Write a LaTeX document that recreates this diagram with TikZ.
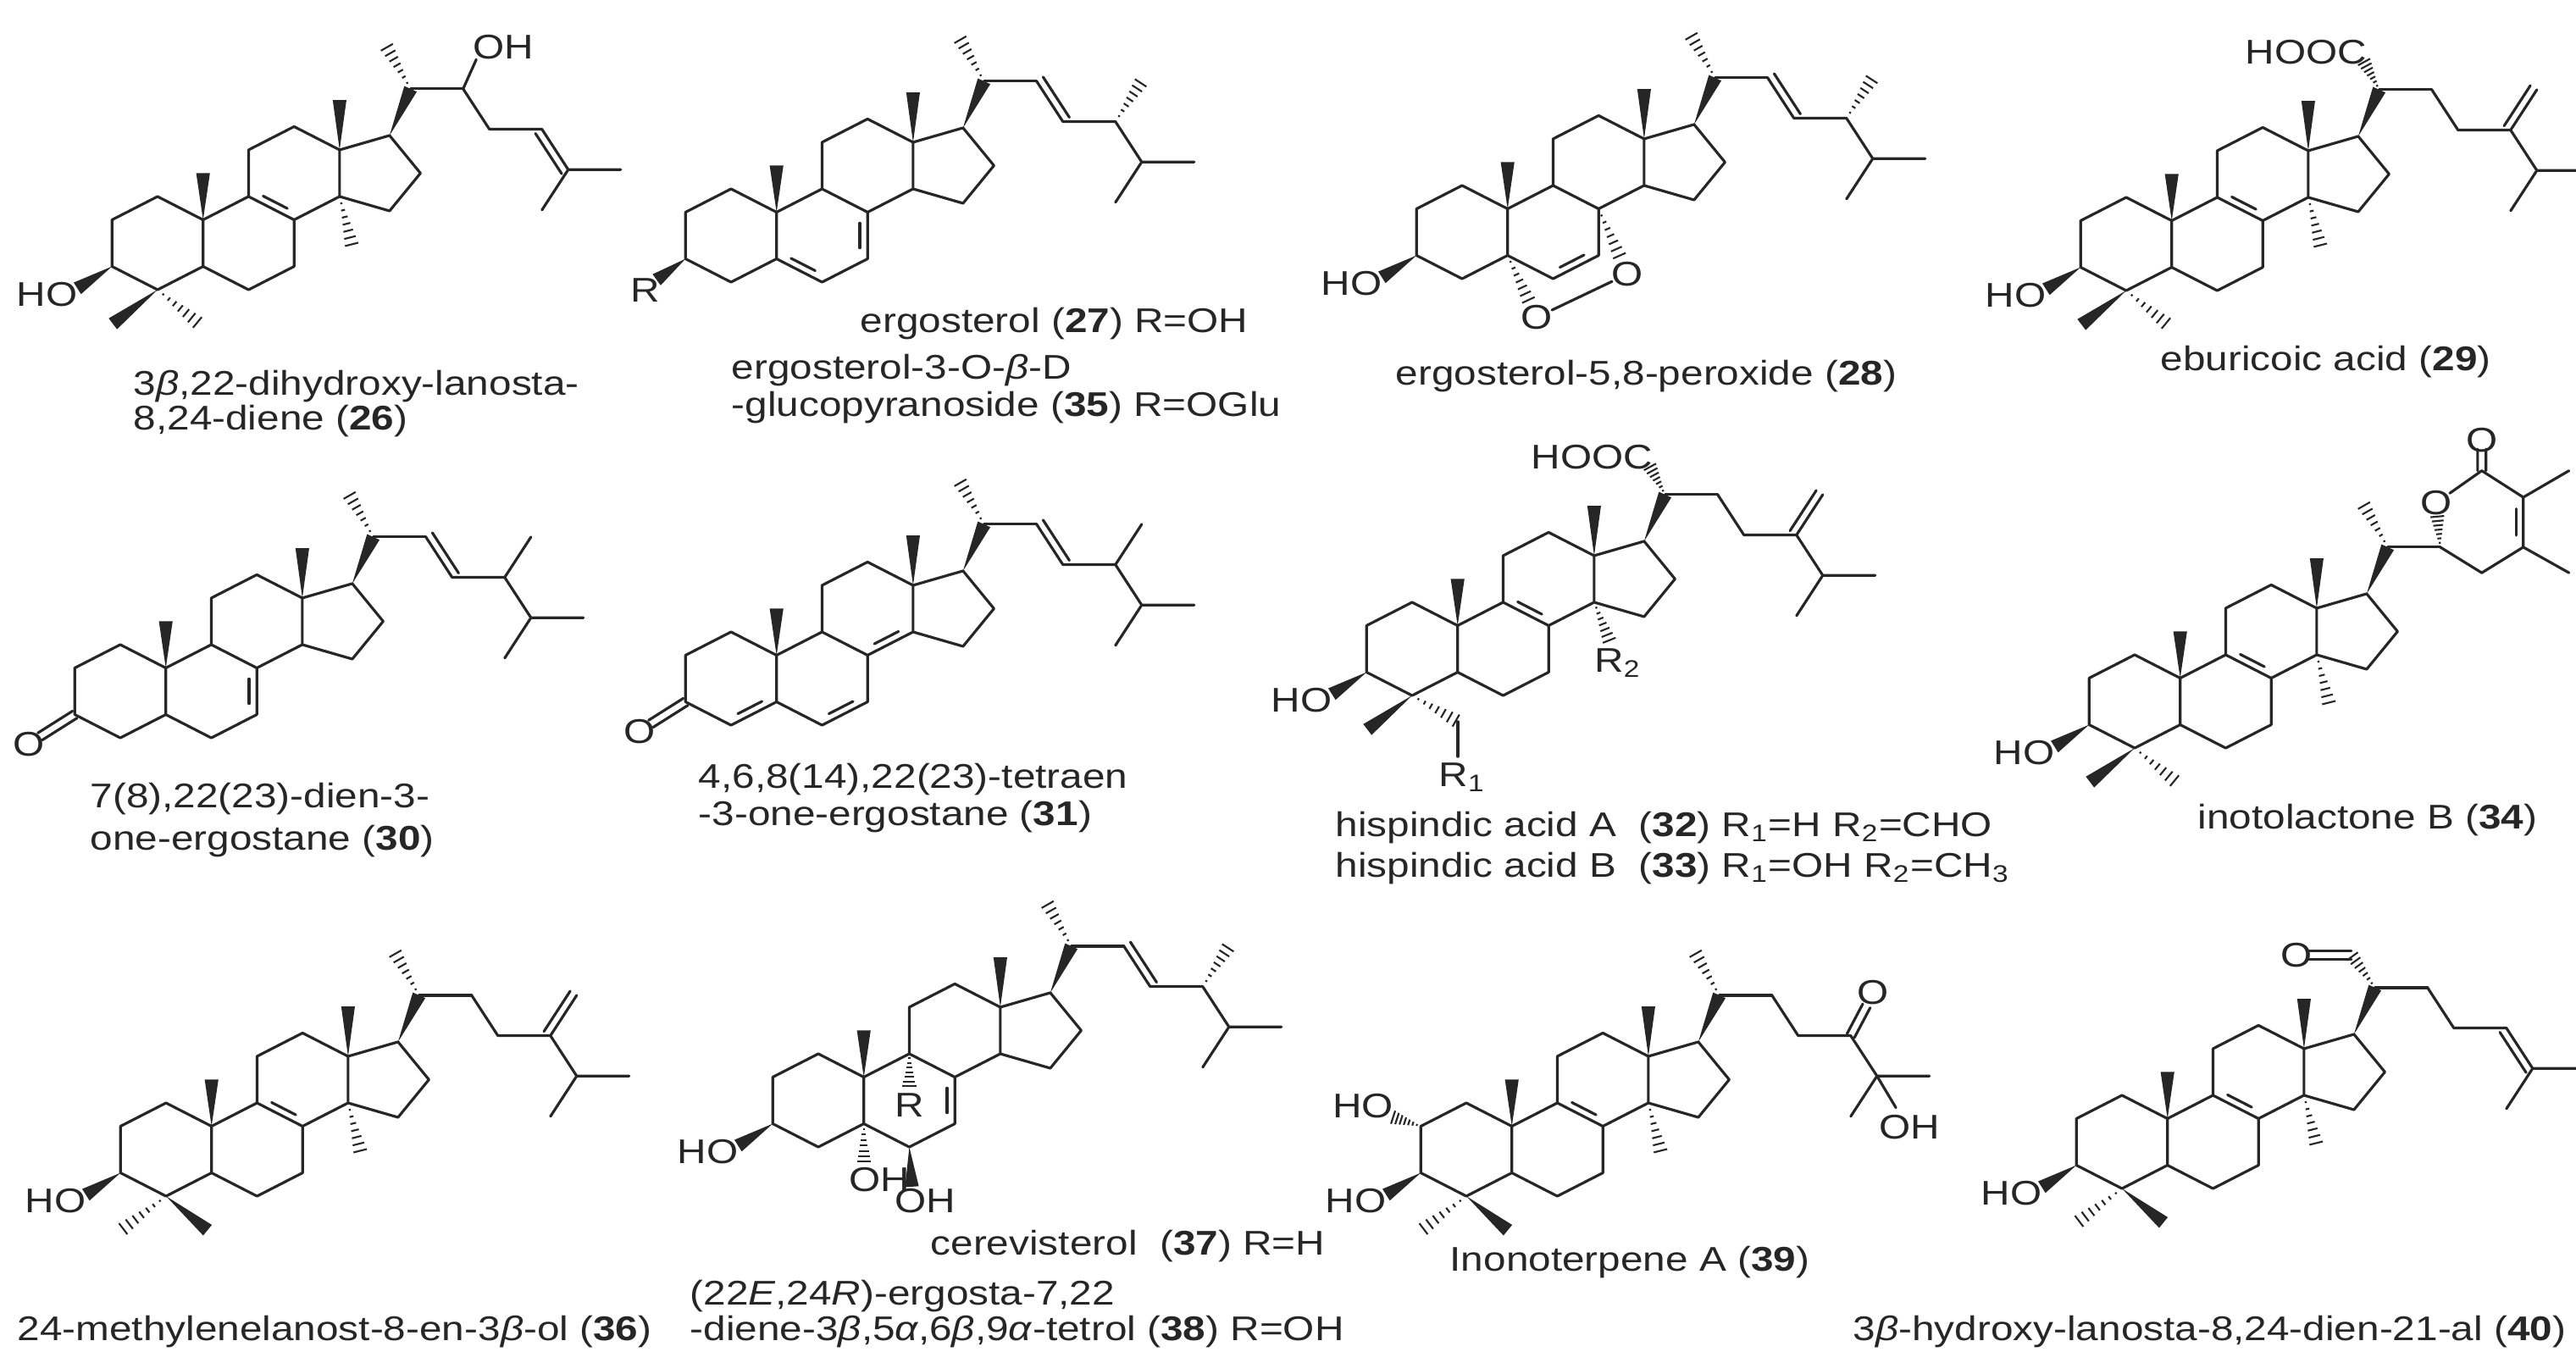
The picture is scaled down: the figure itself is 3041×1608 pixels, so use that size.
\documentclass[tikz,border=0pt]{standalone}
\usepackage{fontspec}
\setmainfont{Liberation Sans}[FakeStretch=1.18]
\usetikzlibrary{calc}
\definecolor{ink}{gray}{0.15}
\tikzset{bond/.style={line width=0.9pt,line join=round,line cap=round,draw=ink},
 lbl/.style={font=\fontsize{11.5}{13}\selectfont,text=ink,inner sep=0pt},
 capt/.style={lbl,anchor=west},
 hashl/.style={line width=0.6pt,draw=ink}}
\newcommand\wdg[2]{\fill[ink] (#1) -- ($(#2)!2.3pt!90:(#1)$) -- ($(#2)!2.3pt!-90:(#1)$) -- cycle;}
\newcommand\hsh[2]{\foreach \i in {1,...,7}{\pgfmathsetlengthmacro\hw{0.33pt*\i}\path ($(#1)!\i/7.3!(#2)$) coordinate (hp); \draw[hashl] ($(hp)!\hw!90:(#1)$) -- ($(hp)!\hw!-90:(#1)$);}}
\newcommand\dbi[3]{\draw[bond] ($(#1)!0.18!(#2)!0.17!(#3)$) -- ($(#2)!0.18!(#1)!0.17!(#3)$);}
\newcommand\dbo[3]{\draw[bond] ($(#1)!#3!90:(#2)$) -- ($(#2)!#3!-90:(#1)$);}
\newcommand\core{%
 \coordinate (c1) at (0,1); \coordinate (c10) at (0.866,0.5); \coordinate (c5) at (0.866,-0.5);
 \coordinate (c4) at (0,-1); \coordinate (c3) at (-0.866,-0.5); \coordinate (c2) at (-0.866,0.5);
 \coordinate (c6) at (1.732,-1); \coordinate (c7) at (2.598,-0.5); \coordinate (c8) at (2.598,0.5);
 \coordinate (c9) at (1.732,1); \coordinate (c11) at (1.732,2); \coordinate (c12) at (2.598,2.5);
 \coordinate (c13) at (3.464,2); \coordinate (c14) at (3.464,1); \coordinate (c15) at (4.415,0.691);
 \coordinate (c16) at (5.003,1.5); \coordinate (c17) at (4.415,2.309);
 \coordinate (rA) at (0,0); \coordinate (rB) at (1.732,0); \coordinate (rC) at (2.598,1.5);
 \draw[bond] (c1)--(c2)--(c3)--(c4)--(c5)--(c10)--cycle (c5)--(c6)--(c7)--(c8)--(c9)--(c10)
   (c9)--(c11)--(c12)--(c13)--(c14)--(c8) (c13)--(c17)--(c16)--(c15)--(c14);
 \coordinate (c18) at ($(c13)+(0,1.07)$); \coordinate (c19) at ($(c10)+(0,1)$);
 \wdg{c13}{c18}\wdg{c10}{c19}}
\newcommand\threeOH{\coordinate (o3) at ($(c3)+(-0.66,-0.47)$); \wdg{c3}{o3} \node[lbl] (ho3) at ($(c3)+(-1.24,-0.6)$) {HO};}
\newcommand\fourWL{\coordinate (m4a) at ($(c4)+(-0.85,-0.73)$); \coordinate (m4b) at ($(c4)+(0.79,-0.73)$); \wdg{c4}{m4a}\hsh{c4}{m4b}}
\newcommand\fourHL{\coordinate (m4a) at ($(c4)+(-0.85,-0.73)$); \coordinate (m4b) at ($(c4)+(0.79,-0.73)$); \hsh{c4}{m4a}\wdg{c4}{m4b}}
\newcommand\fourteen{\coordinate (m14) at ($(c14)+(0.24,-1.07)$); \hsh{c14}{m14}}
\newcommand\lanobase{\core \dbi{c8}{c9}{rC} \threeOH}
\newcommand\lano{\lanobase\fourteen}
\newcommand\start{\coordinate (c20) at ($(c17)+(0.4,1.0)$); \coordinate (c21) at ($(c20)+(-0.47,0.93)$); \coordinate (c22) at ($(c20)+(1,0)$); \wdg{c17}{c20} \draw[bond] (c20)--(c22);}
\newcommand\tail{\coordinate (c23) at ($(c22)+(-60:1)$); \coordinate (c24) at ($(c23)+(1,0)$); \coordinate (c25) at ($(c24)+(-60:1)$); \coordinate (c26) at ($(c25)+(1,0)$); \coordinate (c27) at ($(c25)+(-120:1)$); \coordinate (c28) at ($(c24)+(60:1)$);}
\newcommand\ergchain{\start \hsh{c20}{c21} \tail \draw[bond] (c22)--(c23)--(c24)--(c25)--(c26) (c25)--(c27); \dbo{c22}{c23}{2.6pt}}
\newcommand\exochain{\tail \draw[bond] (c22)--(c23)--(c24)--(c25)--(c26) (c25)--(c27) (c24)--(c28); \dbo{c24}{c28}{2.6pt}}
\newcommand\eneChain{\tail \draw[bond] (c22)--(c23)--(c24)--(c25)--(c26) (c25)--(c27); \dbo{c24}{c25}{-2.6pt}}
\newcommand\keto{\coordinate (ko) at ($(c3)+(-0.66,-0.47)$); \dbo{c3}{ko}{1.4pt}\dbo{c3}{ko}{-1.4pt} \node[lbl] (o3k) at ($(c3)+(-0.87,-0.64)$) {O};}
\newcommand\cooh{\coordinate (h21) at ($(c20)+(-0.3,0.62)$); \hsh{c20}{h21} \node[lbl] (cooh) at ($(c20)+(-1.39,0.8)$) {HOOC};}
\begin{document}
\begin{tikzpicture}[x=0.01cm,y=-0.01cm]
\fill[white] (0,0) rectangle (3041,1608);
\useasboundingbox (0,0) rectangle (3041,1608);
% 26
\begin{scope}[shift={(186,287)},x=0.62cm,y=0.55cm]
\lano \fourWL \start \hsh{c20}{c21} \eneChain
\draw[bond] (c22) -- ($(c22)+(0.25,0.63)$); \node[lbl] (oh22) at ($(c22)+(0.77,0.89)$) {OH};
\end{scope}
% 27
\begin{scope}[shift={(863,278)},x=0.62cm,y=0.55cm]
\core \dbi{c5}{c6}{rB} \dbi{c7}{c8}{rB}
\coordinate (o3) at ($(c3)+(-0.55,-0.45)$); \wdg{c3}{o3} \node[lbl] (r3) at ($(c3)+(-0.77,-0.68)$) {R};
\ergchain \hsh{c24}{c28}
\end{scope}
% 28
\begin{scope}[shift={(1726,274)},x=0.62cm,y=0.55cm]
\core \dbi{c6}{c7}{rB} \threeOH
\coordinate (O1) at ($(c5)+(0.55,-1.33)$); \coordinate (O2) at ($(c8)+(0.55,-1.4)$);
\coordinate (h1) at ($(c5)!0.75!(O1)$); \hsh{c5}{h1} \coordinate (h2) at ($(c8)!0.75!(O2)$); \hsh{c8}{h2}
\draw[bond] ($(O1)!0.17!(O2)$) -- ($(O2)!0.17!(O1)$);
\node[lbl] (ox1) at (O1) {O}; \node[lbl] (ox2) at (O2) {O};
\ergchain \hsh{c24}{c28}
\end{scope}
% 29
\begin{scope}[shift={(2510,288)},x=0.62cm,y=0.55cm]
\lano \fourWL \start \cooh \exochain
\end{scope}
% 30
\begin{scope}[shift={(142,816)},x=0.62cm,y=0.55cm]
\core \dbi{c7}{c8}{rB} \keto \ergchain \draw[bond] (c24)--(c28);
\end{scope}
% 31
\begin{scope}[shift={(863,801)},x=0.62cm,y=0.55cm]
\core \dbi{c4}{c5}{rA} \dbi{c6}{c7}{rB} \dbi{c8}{c14}{rC} \keto \ergchain \draw[bond] (c24)--(c28);
\end{scope}
% 32
\begin{scope}[shift={(1667,766)},x=0.62cm,y=0.55cm]
\lanobase
\coordinate (m4a) at ($(c4)+(-0.85,-0.73)$); \wdg{c4}{m4a}
\coordinate (m4b) at ($(c4)+(0.87,-0.56)$); \hsh{c4}{m4b}
\coordinate (m4c) at ($(m4b)+(0,-0.75)$); \draw[bond] (m4b)--(m4c);
\node[lbl] (r1) at ($(m4b)+(0.08,-1.2)$) {R\textsubscript{1}};
\coordinate (h14) at ($(c14)+(0.3,-0.85)$); \hsh{c14}{h14}
\node[lbl] (r2) at ($(c14)+(0.45,-1.3)$) {R\textsubscript{2}};
\start \cooh \exochain
\end{scope}
% 34
\begin{scope}[shift={(2520,828)},x=0.62cm,y=0.55cm]
\lano \fourWL \start \hsh{c20}{c21}
\coordinate (lo) at ($(c22)+(-0.08,0.95)$); \coordinate (l26) at ($(c22)+(0.79,1.64)$);
\coordinate (l25) at ($(c22)+(1.58,1.07)$); \coordinate (l24) at ($(c22)+(1.58,0)$);
\coordinate (l23) at ($(c22)+(0.79,-0.55)$); \coordinate (lox) at ($(c22)+(0.79,2.3)$);
\coordinate (lc) at ($(c22)+(0.79,0.55)$);
\coordinate (l25m) at ($(c22)+(2.45,1.64)$); \coordinate (l24m) at ($(c22)+(2.45,-0.55)$);
\coordinate (hl) at ($(c22)!0.72!(lo)$); \hsh{c22}{hl}
\draw[bond] ($(lo)!0.3!(l26)$) -- (l26) -- (l25) -- (l24) -- (l23) -- (c22) (l25)--(l25m) (l24)--(l24m);
\dbi{l25}{l24}{lc}
\coordinate (lxe) at ($(l26)!0.7!(lox)$); \dbo{l26}{lxe}{1.4pt}\dbo{l26}{lxe}{-1.4pt}
\node[lbl] (olac) at (lo) {O}; \node[lbl] (ocarb) at (lox) {O};
\end{scope}
% 36
\begin{scope}[shift={(196,1357)},x=0.62cm,y=0.55cm]
\lano \fourHL \start \hsh{c20}{c21} \exochain
\end{scope}
% 37
\begin{scope}[shift={(966,1299)},x=0.62cm,y=0.55cm]
\core \dbi{c7}{c8}{rB} \threeOH
\coordinate (h9) at ($(c9)+(0,-0.72)$); \hsh{c9}{h9} \node[lbl] (r9) at ($(c9)+(0,-1.1)$) {R};
\coordinate (h5) at ($(c5)+(0,-0.85)$); \hsh{c5}{h5} \node[lbl] (oh5) at ($(c5)+(0.3,-1.2)$) {OH};
\coordinate (h6) at ($(c6)+(0.05,-0.85)$); \wdg{c6}{h6} \node[lbl] (oh6) at ($(c6)+(0.3,-1.15)$) {OH};
\ergchain \hsh{c24}{c28}
\end{scope}
% 39
\begin{scope}[shift={(1731,1357)},x=0.62cm,y=0.55cm]
\lano \fourHL
\coordinate (h2) at ($(c2)+(-0.55,0.2)$); \hsh{c2}{h2} \node[lbl] (ho2) at ($(c2)+(-1.1,0.44)$) {HO};
\start \hsh{c20}{c21} \tail
\draw[bond] (c22)--(c23)--(c24)--(c25)--(c26) (c25)--(c27);
\coordinate (o24) at ($(c24)+(0.3,0.64)$); \dbo{c24}{o24}{1.4pt}\dbo{c24}{o24}{-1.4pt}
\node[lbl] (ok24) at ($(c24)+(0.42,0.92)$) {O};
\draw[bond] (c25) -- ($(c25)+(0.36,-0.68)$); \node[lbl] (oh25) at ($(c25)+(0.62,-1.1)$) {OH};
\end{scope}
% 40
\begin{scope}[shift={(2505,1348)},x=0.62cm,y=0.55cm]
\lano \fourHL \start
\coordinate (c21) at ($(c20)+(-0.45,0.7)$); \hsh{c20}{c21}
\coordinate (oe) at ($(c20)+(-1.3,0.7)$); \dbo{c21}{oe}{1.4pt}\dbo{c21}{oe}{-1.4pt}
\node[lbl] (oal) at ($(c20)+(-1.5,0.7)$) {O};
\eneChain
\end{scope}
% captions
\node[capt] (t26a) at (157,456) {3\textit{β},22-dihydroxy-lanosta-};
\node[capt] (t26b) at (157,497) {8,24-diene (\textbf{26})};
\node[capt] (t27a) at (1015,382) {ergosterol (\textbf{27}) R=OH};
\node[capt] (t27b) at (863,437) {ergosterol-3-O-\textit{β}-D};
\node[capt] (t27c) at (863,481) {-glucopyranoside (\textbf{35}) R=OGlu};
\node[capt] (t28) at (1647,444) {ergosterol-5,8-peroxide (\textbf{28})};
\node[capt] (t29) at (2550,427) {eburicoic acid (\textbf{29})};
\node[capt] (t30a) at (106,943) {7(8),22(23)-dien-3-};
\node[capt] (t30b) at (106,993) {one-ergostane (\textbf{30})};
\node[capt] (t31a) at (824,920) {4,6,8(14),22(23)-tetraen};
\node[capt] (t31b) at (824,964) {-3-one-ergostane (\textbf{31})};
\node[capt] (t32) at (1576,977) {hispindic acid A\ \ (\textbf{32}) R\textsubscript{1}=H R\textsubscript{2}=CHO};
\node[capt] (t33) at (1576,1025) {hispindic acid B\ \ (\textbf{33}) R\textsubscript{1}=OH R\textsubscript{2}=CH\textsubscript{3}};
\node[capt] (t34) at (2594,968) {inotolactone B (\textbf{34})};
\node[capt] (t36) at (20,1572) {24-methylenelanost-8-en-3\textit{β}-ol (\textbf{36})};
\node[capt] (t37) at (1098,1471) {cerevisterol\ \ (\textbf{37}) R=H};
\node[capt] (t38a) at (814,1530) {(22\textit{E},24\textit{R})-ergosta-7,22};
\node[capt] (t38b) at (814,1572) {-diene-3\textit{β},5\textit{α},6\textit{β},9\textit{α}-tetrol (\textbf{38}) R=OH};
\node[capt] (t39) at (1711,1490) {Inonoterpene A (\textbf{39})};
\node[capt] (t40) at (2187,1572) {3\textit{β}-hydroxy-lanosta-8,24-dien-21-al (\textbf{40})};
\end{tikzpicture}
\end{document}
